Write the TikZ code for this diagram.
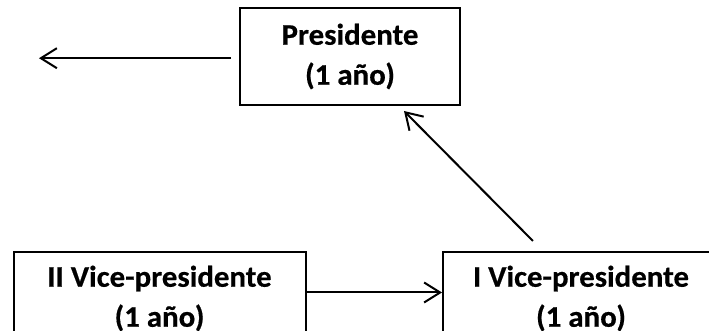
\documentclass[tikz,border=0pt]{standalone}
\usepackage{fontspec}
\setmainfont[FakeStretch=1.03, BoldFeatures={FakeBold=0.5}]{Carlito}
\usetikzlibrary{arrows.meta, positioning}
\tikzset{every node/.style={ % Text of every box
font=\fontsize{15}{20}\selectfont\bfseries,
align=center},
post/.style={ % Sets the properties for each box
draw, line width=1pt,
inner sep=0pt},
every path/.style={ % Sets the properties for each arrow
line width=1pt},
link/.style={
-{Straight Barb[length=8pt,width=10pt,line width=1pt]}}}

\begin{document}
\begin{tikzpicture}
    \useasboundingbox (0,0) rectangle (354.5pt,165.5pt);
    \node[post, minimum width=110pt, minimum height=48.5pt] (pres) at (175pt,137.25pt) {Presidente\\(1 año)};
    \node[post, minimum width=146pt, minimum height=46.5pt] (iivp) at (79.75pt,16.25pt) {II Vice-presidente\\(1 año)};
    \node[post, minimum width=138pt, minimum height=46.5pt] (ivp) at (290.5pt,16.25pt) {I Vice-presidente\\(1 año)};
    \coordinate (out) at (19.5pt,136.4pt);
    \draw[link] ([xshift=-4pt]pres.west |- out) -- (out);
    \draw[link] ([shift={(-24pt,5pt)}]ivp.north) -- ([shift={(27pt,-2.5pt)}]pres.south);
    \draw[link] ([yshift=3pt]iivp.east) -- ([yshift=3pt]ivp.west);
\end{tikzpicture}
\end{document}
